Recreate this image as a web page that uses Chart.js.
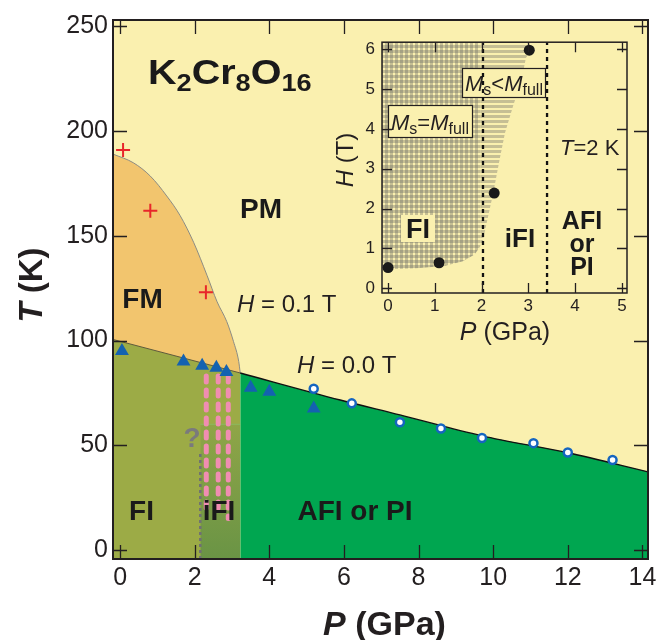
<!DOCTYPE html>
<html>
<head>
<meta charset="utf-8">
<script src="https://cdn.jsdelivr.net/npm/chart.js@4.4.1/dist/chart.umd.min.js"></script>
<style>
html, body { margin: 0; padding: 0; background: #fff; }
#wrap { position: relative; width: 669px; height: 640px; }
#main { position: absolute; left: 0; top: 0; }
#inset { position: absolute; left: 330px; top: 25px; }
</style>
</head>
<body>
<div id="wrap">
  <canvas id="main" width="669" height="640" style="width:669px;height:640px"></canvas>
  <canvas id="inset" width="310" height="330" style="width:310px;height:330px"></canvas>
</div>
<script>
const FONT = '"Liberation Sans", Arial, Helvetica, sans-serif';

// ---- main panel: T (K) vs P (GPa) ----
const xTicks = [0, 2, 4, 6, 8, 10, 12, 14];
const yTicks = [0, 50, 100, 150, 200, 250];
const xRange = [-0.19, 14.15];
const yRange = [-4.3, 253];

// H = 0.1 T boundary (FM / PM)
const fmLineP = [-0.19, 0.36, 0.81, 1.25, 1.61, 1.97, 2.33, 2.6, 2.86, 3.04, 3.18, 3.22];
const fmLineT = [189, 184.8, 178.5, 169, 159.6, 146.9, 131.1, 118.5, 109, 99.5, 90, 84.5];
// H = 0.0 T boundary, FI side and AFI side
const h0LeftP = [-0.19, 3.22];
const h0LeftT = [100.5, 84.5];
const h0RightP = [3.22, 5.9, 7.5, 9.7, 12, 14.15];
const h0RightT = [84.5, 71.6, 64.5, 54.5, 46.4, 37.3];
// darker iFI block
const ifiBoxP = [2.15, 3.22];
const ifiBoxT = [60, 60];

const crossP = [0.08, 0.81, 2.3];
const crossT = [191, 162, 123];
const triP = [0.05, 1.7, 2.2, 2.58, 2.85, 3.5, 4.0, 5.19];
const triT = [95, 90, 88, 87, 85, 77.5, 75.5, 67.5];
const circP = [5.19, 6.21, 7.5, 8.6, 9.7, 11.08, 12.0, 13.2];
const circT = [77, 70, 61, 58, 53.5, 51, 46.5, 43];

const pinkP = [2.31, 2.63, 2.9];
const pinkTop = [83, 83, 83];
const pinkBottom = [19, 17, 15];
const qLineP = [2.15, 2.15];
const qLineT = [-4.3, 46];

// ---- inset: H (T) vs P (GPa) at T = 2 K ----
const insetXTicks = [0, 1, 2, 3, 4, 5];
const insetYTicks = [0, 1, 2, 3, 4, 5, 6];
const insetXRange = [-0.13, 5.11];
const insetYRange = [-0.12, 6.18];
const dotP = [0, 1.09, 2.27, 3.02];
const dotH = [0.52, 0.64, 2.39, 5.98];
// lower edge of the Ms = Mfull (checked) area
const fullEdgeP = [-0.13, 0.6, 1.2, 1.6, 1.85, 1.97];
const fullEdgeH = [0.47, 0.5, 0.56, 0.68, 0.85, 1.05];
// lower/right edge of the Ms < Mfull (striped) area
const partEdgeP = [1.97, 2.03, 2.12, 2.25, 2.38, 2.5, 2.68, 2.85, 2.95, 2.97];
const partEdgeH = [1.05, 1.2, 1.7, 2.4, 3.2, 3.9, 4.6, 5.2, 5.8, 6.18];
const insetDashP = [2.03, 3.4];

const colors = {
    pm: '#FAF0AF',
    fm: '#F2C56E',
    fi: '#9CAB46',
    ifi: '#74994A',
    afi: '#00A650',
    blue: '#1462B0',
    red: '#E8262A',
    pink: '#F08DB2',
    ink: '#231F20'
};

const pts = (xs, ys) => xs.map((x, i) => ({ x, y: ys[i] }));

Chart.defaults.font.family = FONT;
Chart.defaults.color = colors.ink;

function richText(ctx, x, y, parts, align, sx) {
    sx = sx || 1;
    let w = 0;
    parts.forEach(p => { ctx.font = p[1]; w += ctx.measureText(p[0]).width; });
    ctx.save();
    ctx.translate(x, y);
    ctx.scale(sx, 1);
    let cx = align === 'center' ? -w / 2 : 0;
    parts.forEach(p => {
        ctx.font = p[1];
        ctx.fillText(p[0], cx, p[2] || 0);
        cx += ctx.measureText(p[0]).width;
    });
    ctx.restore();
}

function drawFrame(chart, len, lw) {
    const { ctx, chartArea: a, scales: { x, y } } = chart;
    ctx.save();
    ctx.strokeStyle = colors.ink;
    ctx.lineWidth = 1.3;
    ctx.beginPath();
    x.ticks.forEach(t => {
        const px = Math.round(x.getPixelForValue(t.value)) + 0.5;
        ctx.moveTo(px, a.bottom); ctx.lineTo(px, a.bottom - len);
        ctx.moveTo(px, a.top); ctx.lineTo(px, a.top + len);
    });
    y.ticks.forEach(t => {
        const py = Math.round(y.getPixelForValue(t.value)) + 0.5;
        ctx.moveTo(a.left, py); ctx.lineTo(a.left + len, py);
        ctx.moveTo(a.right, py); ctx.lineTo(a.right - len, py);
    });
    ctx.stroke();
    ctx.lineWidth = lw;
    ctx.strokeRect(a.left, a.top, a.right - a.left, a.bottom - a.top);
    ctx.restore();
}

const fixTicks = list => s => { s.ticks = list.map(v => ({ value: v })); };

// ---------- main chart ----------
const mainPlugin = {
    id: 'mainDecor',
    beforeDraw(chart) {
        const { ctx, chartArea: a } = chart;
        ctx.save();
        ctx.fillStyle = colors.pm;
        ctx.fillRect(a.left, a.top, a.right - a.left, a.bottom - a.top);
        ctx.restore();
    },
    afterDatasetsDraw(chart) {
        const ctx = chart.ctx;
        ctx.save();
        ctx.fillStyle = '#1A1A1A';
        ctx.textAlign = 'left';
        ctx.textBaseline = 'alphabetic';
        const B = s => 'bold ' + s + 'px ' + FONT;
        richText(ctx, 148, 84, [
            ['K', B(35)], ['2', B(24), 7], ['Cr', B(35)], ['8', B(24), 7], ['O', B(35)], ['16', B(24), 7]
        ], 'left', 1.13);
        richText(ctx, 261, 218, [['PM', B(28)]], 'center');
        richText(ctx, 142.5, 308, [['FM', B(28)]], 'center');
        richText(ctx, 141.5, 520, [['FI', B(28)]], 'center');
        richText(ctx, 219, 520, [['iFI', B(28)]], 'center');
        richText(ctx, 355, 520, [['AFI or PI', B(28)]], 'center');
        ctx.fillStyle = colors.ink;
        richText(ctx, 237, 312, [['H', 'italic 24px ' + FONT], [' = 0.1 T', '24px ' + FONT]]);
        richText(ctx, 297, 373, [['H', 'italic 24px ' + FONT], [' = 0.0 T', '24px ' + FONT]]);
        ctx.fillStyle = '#7A7A7C';
        richText(ctx, 192, 447, [['?', B(28)]], 'center');
        ctx.restore();
    },
    afterDraw(chart) {
        drawFrame(chart, 14, 2);
        const ctx = chart.ctx;
        ctx.save();
        ctx.fillStyle = colors.ink;
        ctx.textBaseline = 'alphabetic';
        richText(ctx, 384.5, 635, [['P', 'italic bold 34px ' + FONT], [' (GPa)', 'bold 34px ' + FONT]], 'center');
        ctx.translate(30, 285);
        ctx.rotate(-Math.PI / 2);
        richText(ctx, 0, 12, [['T', 'italic bold 33px ' + FONT], [' (K)', 'bold 33px ' + FONT]], 'center');
        ctx.restore();
    }
};

const lineBase = { pointRadius: 0, pointHoverRadius: 0, showLine: true };

const mainDatasets = [
    { ...lineBase, data: pts(fmLineP, fmLineT), fill: 'start', backgroundColor: colors.fm,
      borderColor: '#8C8C84', borderWidth: 1, cubicInterpolationMode: 'monotone', order: 20 },
    { ...lineBase, data: pts(h0LeftP, h0LeftT), fill: 'start', backgroundColor: colors.fi,
      borderColor: '#5E5A3C', borderWidth: 1, order: 19 },
    { ...lineBase, data: pts(h0RightP, h0RightT), fill: 'start', backgroundColor: colors.afi,
      borderColor: '#111', borderWidth: 1.4, cubicInterpolationMode: 'monotone', order: 18 },
    { ...lineBase, data: pts(ifiBoxP, ifiBoxT), fill: 'start', borderColor: '#8DBA5E', borderWidth: 1, order: 17,
      backgroundColor: ctx => {
          const a = ctx.chart.chartArea;
          if (!a) return colors.ifi;
          const y = ctx.chart.scales.y;
          const g = ctx.chart.ctx.createLinearGradient(0, y.getPixelForValue(60), 0, a.bottom);
          g.addColorStop(0, '#8FA547');
          g.addColorStop(1, '#6A9445');
          return g;
      } },
    ...pinkP.map((p, i) => ({ ...lineBase, data: pts([p, p], [pinkTop[i], pinkBottom[i]]), fill: false,
      borderColor: colors.pink, borderWidth: 5, borderDash: [6, 8], borderCapStyle: 'round', order: 16 })),
    { ...lineBase, data: pts(qLineP, qLineT), fill: false, borderColor: '#6F7073', borderWidth: 2.5,
      borderDash: [3, 3], order: 15 },
    { data: pts(crossP, crossT), showLine: false, pointStyle: 'cross', pointRadius: 7, pointBorderWidth: 2,
      borderColor: colors.red, pointBorderColor: colors.red, order: 3 },
    { data: pts(triP, triT), showLine: false, pointStyle: 'triangle', pointRadius: 8, pointBorderWidth: 0,
      pointBackgroundColor: colors.blue, order: 2 },
    { data: pts(circP, circT), showLine: false, pointStyle: 'circle', pointRadius: 4, pointBorderWidth: 2.5,
      pointBackgroundColor: '#fff', pointBorderColor: '#1565C0', order: 1 }
];

new Chart(document.getElementById('main'), {
    type: 'line',
    data: { datasets: mainDatasets },
    options: {
        responsive: false,
        animation: false,
        devicePixelRatio: 1,
        events: [],
        layout: { padding: { top: 16, right: 21, left: 0, bottom: 0 } },
        plugins: { legend: { display: false }, tooltip: { enabled: false } },
        scales: {
            x: {
                type: 'linear', min: xRange[0], max: xRange[1],
                afterBuildTicks: fixTicks(xTicks),
                afterFit: s => { s.height = 81; },
                grid: { display: false, drawTicks: false },
                border: { display: false },
                ticks: { font: { size: 25 }, color: colors.ink, padding: 4, maxRotation: 0 }
            },
            y: {
                type: 'linear', min: yRange[0], max: yRange[1],
                afterBuildTicks: fixTicks(yTicks),
                afterFit: s => { s.width = 113; },
                grid: { display: false, drawTicks: false },
                border: { display: false },
                ticks: { font: { size: 25 }, color: colors.ink, padding: 5 }
            }
        }
    },
    plugins: [mainPlugin]
});

// ---------- inset ----------
function makePattern(both) {
    const c = document.createElement('canvas');
    c.width = 5; c.height = 5;
    const g = c.getContext('2d');
    g.fillStyle = 'rgba(105,105,100,0.36)';
    g.fillRect(0, 0, 5, 3);
    if (both) g.fillRect(0, 0, 3, 5);
    return g.createPattern(c, 'repeat');
}
const checkPattern = makePattern(true);
const stripePattern = makePattern(false);

const insetPlugin = {
    id: 'insetDecor',
    beforeDraw(chart) {
        const { ctx, chartArea: a } = chart;
        ctx.save();
        ctx.fillStyle = colors.pm;
        ctx.fillRect(a.left, a.top, a.right - a.left, a.bottom - a.top);
        ctx.restore();
    },
    afterDatasetDraw(chart, args) {
        if (args.meta.order !== 9) return;
        const ctx = chart.ctx;
        ctx.save();
        ctx.fillStyle = colors.pm;
        ctx.strokeStyle = colors.ink;
        ctx.lineWidth = 1.2;
        ctx.fillRect(58, 80, 84, 32); ctx.strokeRect(58.5, 80.5, 84, 32);
        ctx.fillRect(132, 43, 83, 29); ctx.strokeRect(132.5, 43.5, 83, 29);
        ctx.fillRect(71, 190, 34, 27);
        ctx.fillStyle = colors.ink;
        const I = 'italic 22px ' + FONT, S = '16px ' + FONT, R = '22px ' + FONT;
        richText(ctx, 61, 105, [['M', I], ['s', S, 4], ['=', R], ['M', I], ['full', S, 4]]);
        richText(ctx, 135, 66, [['M', I], ['s', S, 4], ['<', R], ['M', I], ['full', S, 4]]);
        ctx.restore();
    },
    afterDatasetsDraw(chart) {
        const ctx = chart.ctx;
        ctx.save();
        ctx.fillStyle = '#1A1A1A';
        const B = s => 'bold ' + s + 'px ' + FONT;
        richText(ctx, 88, 213, [['FI', B(27)]], 'center');
        richText(ctx, 190, 222, [['iFI', B(26)]], 'center');
        richText(ctx, 252, 204, [['AFI', B(25)]], 'center');
        richText(ctx, 252, 227, [['or', B(25)]], 'center');
        richText(ctx, 252, 250, [['PI', B(25)]], 'center');
        ctx.fillStyle = colors.ink;
        richText(ctx, 230, 130, [['T', 'italic 22px ' + FONT], ['=2 K', '22px ' + FONT]]);
        ctx.restore();
    },
    afterDraw(chart) {
        drawFrame(chart, 10, 1.5);
        const ctx = chart.ctx;
        ctx.save();
        ctx.fillStyle = colors.ink;
        richText(ctx, 175, 315, [['P', 'italic 25px ' + FONT], [' (GPa)', '25px ' + FONT]], 'center');
        ctx.translate(15, 135);
        ctx.rotate(-Math.PI / 2);
        richText(ctx, 0, 8, [['H', 'italic 24px ' + FONT], [' (T)', '24px ' + FONT]], 'center');
        ctx.restore();
    }
};

const insetDatasets = [
    { ...lineBase, data: pts(fullEdgeP, fullEdgeH), fill: 'end', backgroundColor: checkPattern,
      borderWidth: 0, order: 10 },
    { ...lineBase, data: pts(partEdgeP, partEdgeH), fill: 'end', backgroundColor: stripePattern,
      borderWidth: 0, order: 9 },
    ...insetDashP.map(p => ({ ...lineBase, data: pts([p, p], insetYRange), fill: false,
      borderColor: '#111', borderWidth: 2.3, borderDash: [4, 4], order: 5 })),
    { data: pts(dotP, dotH), showLine: false, pointStyle: 'circle', pointRadius: 5.5, pointBorderWidth: 0,
      pointBackgroundColor: '#1A1A1A', order: 1 }
];

new Chart(document.getElementById('inset'), {
    type: 'line',
    data: { datasets: insetDatasets },
    options: {
        responsive: false,
        animation: false,
        devicePixelRatio: 1,
        events: [],
        layout: { padding: { top: 16, right: 13, left: 0, bottom: 0 } },
        plugins: { legend: { display: false }, tooltip: { enabled: false } },
        scales: {
            x: {
                type: 'linear', min: insetXRange[0], max: insetXRange[1],
                afterBuildTicks: fixTicks(insetXTicks),
                afterFit: s => { s.height = 62; },
                grid: { display: false, drawTicks: false },
                border: { display: false },
                ticks: { font: { size: 17 }, color: colors.ink, padding: 3, maxRotation: 0 }
            },
            y: {
                type: 'linear', min: insetYRange[0], max: insetYRange[1],
                afterBuildTicks: fixTicks(insetYTicks),
                afterFit: s => { s.width = 52; },
                grid: { display: false, drawTicks: false },
                border: { display: false },
                ticks: { font: { size: 17 }, color: colors.ink, padding: 7 }
            }
        }
    },
    plugins: [insetPlugin]
});
</script>
</body>
</html>
